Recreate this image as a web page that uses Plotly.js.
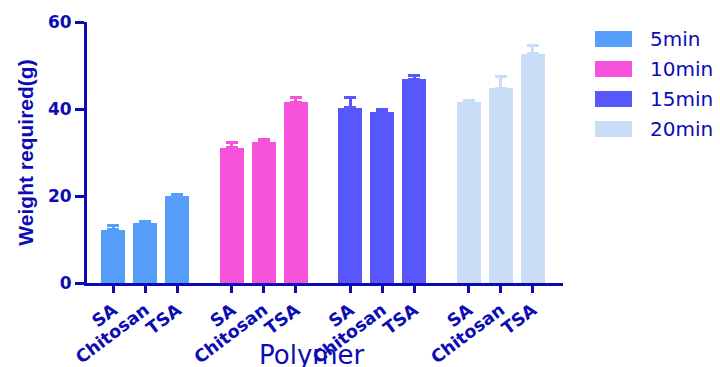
<!DOCTYPE html>
<html>
<head>
<meta charset="utf-8">
<script src="https://cdn.plot.ly/plotly-3.0.1.min.js"></script>
<style>html,body{margin:0;padding:0;background:#fff;}#chart{width:720px;height:367px;}</style>
</head>
<body>
<div id="chart"></div>
<script>
// ---- data ----
const seriesNames = ['5min', '10min', '15min', '20min'];
const polymers = ['SA', 'Chitosan', 'TSA'];
const mean5 = [12.3, 13.8, 20.1];
const err5 = [0.9, 0.3, 0.2];
const mean10 = [31.1, 32.5, 41.6];
const err10 = [1.1, 0.6, 1.1];
const mean15 = [40.3, 39.4, 46.8];
const err15 = [2.3, 0.6, 0.8];
const mean20 = [41.5, 44.8, 52.7];
const err20 = [0.5, 2.7, 1.8];
const seriesColors = ['#559ffa', '#f652d9', '#5757fb', '#c9ddf7'];

// ---- layout constants ----
const W = 720, H = 367;
const M = {l: 87, r: 157, t: 22, b: 84};
const axisColor = '#0c0cb4';
const arial = 'Arial, "Liberation Sans", sans-serif';
const wide = '"DejaVu Sans", Verdana, sans-serif';
const groupStep = 3.7;

const means = [mean5, mean10, mean15, mean20];
const errs = [err5, err10, err15, err20];

const traces = [];
const tickvals = [];
const ticktext = [];
seriesNames.forEach((name, g) => {
  const xs = polymers.map((p, i) => g * groupStep + i);
  xs.forEach((x, i) => { tickvals.push(x); ticktext.push(polymers[i]); });
  traces.push({
    type: 'bar',
    name: name,
    x: xs,
    y: means[g],
    width: 0.75,
    marker: {color: seriesColors[g], line: {width: 0}},
    error_y: {type: 'data', symmetric: false, array: errs[g], arrayminus: errs[g].map(() => 0),
              color: seriesColors[g], thickness: 3, width: 6},
    showlegend: false,
    hoverinfo: 'x+y'
  });
});

// custom legend (large swatches as in the reference)
const plotW = W - M.l - M.r, plotH = H - M.t - M.b;
const px2x = px => (px - M.l) / plotW;
const px2y = py => 1 - (py - M.t) / plotH;
const shapes = [];
const annotations = [];
seriesNames.forEach((name, k) => {
  const cy = 39 + k * 30;
  shapes.push({type: 'rect', xref: 'paper', yref: 'paper',
    x0: px2x(595), x1: px2x(632), y0: px2y(cy - 8), y1: px2y(cy + 8),
    fillcolor: seriesColors[k], line: {width: 0}});
  annotations.push({xref: 'paper', yref: 'paper', x: px2x(648), y: px2y(cy),
    xanchor: 'left', yanchor: 'middle', showarrow: false, text: name,
    font: {family: wide, size: 20, color: axisColor}});
});
annotations.push({xref: 'paper', yref: 'paper', x: px2x(312), y: px2y(355),
  xanchor: 'center', yanchor: 'middle', showarrow: false, text: 'Polymer',
  font: {family: wide, size: 26, color: axisColor}});

const layout = {
  width: W, height: H,
  margin: M,
  paper_bgcolor: '#ffffff', plot_bgcolor: '#ffffff',
  showlegend: false,
  bargap: 0,
  xaxis: {
    range: [-0.82, 14.05], tickmode: 'array', tickvals: tickvals, ticktext: ticktext,
    tickangle: -37, ticks: 'outside', ticklen: 7, tickwidth: 3, tickcolor: axisColor,
    showline: true, linewidth: 3, linecolor: axisColor, showgrid: false, zeroline: false,
    tickfont: {family: wide, size: 17.5, color: axisColor, weight: 'bold'}
  },
  yaxis: {
    range: [0, 60], dtick: 20, ticks: 'outside', ticklen: 9, tickwidth: 3, tickcolor: axisColor,
    showline: true, linewidth: 3, linecolor: axisColor, showgrid: false, zeroline: false,
    tickfont: {family: wide, size: 17, color: axisColor, weight: 'bold'},
    title: {text: 'Weight required(g)', standoff: 9,
            font: {family: arial, size: 21, color: axisColor, weight: 'bold'}}
  },
  shapes: shapes,
  annotations: annotations
};

Plotly.newPlot('chart', traces, layout, {displayModeBar: false, staticPlot: true});
</script>
</body>
</html>
